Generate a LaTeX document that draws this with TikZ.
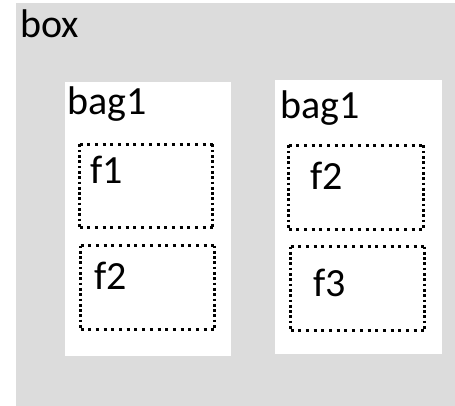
\documentclass[tikz,border=0pt]{standalone}
\usepackage{fontspec}
\setmainfont{Carlito}
\definecolor{boxgray}{RGB}{220,220,220}
\tikzset{
  region/.style={inner sep=0pt, outer sep=0pt, anchor=north west},
  outerbox/.style={region, fill=boxgray},
  bagbox/.style={region, fill=white},
  itembox/.style={region},
  hdots/.style={draw=black, line width=3.2pt, dash pattern=on 3pt off 4.7pt},
  vdots/.style={draw=black, line width=3.2pt, dash pattern=on 2.7pt off 2.6pt},
  lbl/.style={anchor=base west, inner sep=0pt, font=\fontsize{40}{42}\selectfont}
}
% dotted frame around a named node: denser dots on the vertical sides
\newcommand\dotframe[1]{%
  \draw[hdots] (#1.north west) -- (#1.north east);
  \draw[hdots] (#1.south west) -- (#1.south east);
  \draw[vdots] (#1.north west) -- (#1.south west);
  \draw[vdots] (#1.north east) -- (#1.south east);
}
\begin{document}
\begin{tikzpicture}[x=1pt, y=-1pt]
  \useasboundingbox (0,0) rectangle (455,406);
  % outer container
  \node[outerbox, minimum width=439pt, minimum height=403pt] (box) at (16,3) {};
  \node[lbl] (boxlbl) at (20,38) {box};
  % left bag
  \node[bagbox, minimum width=166pt, minimum height=274pt] (bagA) at (65,82) {};
  \node[lbl] (bagAlbl) at (67,115) {bag1};
  \node[itembox, minimum width=133pt, minimum height=83pt] (fA1) at (79.5,144.5) {};
  \dotframe{fA1}
  \node[lbl] (fA1lbl) at (90,184) {f1};
  \node[itembox, minimum width=134pt, minimum height=84pt] (fA2) at (80.5,245.5) {};
  \dotframe{fA2}
  \node[lbl] (fA2lbl) at (94,289) {f2};
  % right bag
  \node[bagbox, minimum width=167pt, minimum height=274pt] (bagB) at (275,80) {};
  \node[lbl] (bagBlbl) at (280,119) {bag1};
  \node[itembox, minimum width=135pt, minimum height=84pt] (fB1) at (288.5,145.5) {};
  \dotframe{fB1}
  \node[lbl] (fB1lbl) at (310,190) {f2};
  \node[itembox, minimum width=134pt, minimum height=84pt] (fB2) at (290.5,246.5) {};
  \dotframe{fB2}
  \node[lbl] (fB2lbl) at (313,296) {f3};
\end{tikzpicture}
\end{document}
